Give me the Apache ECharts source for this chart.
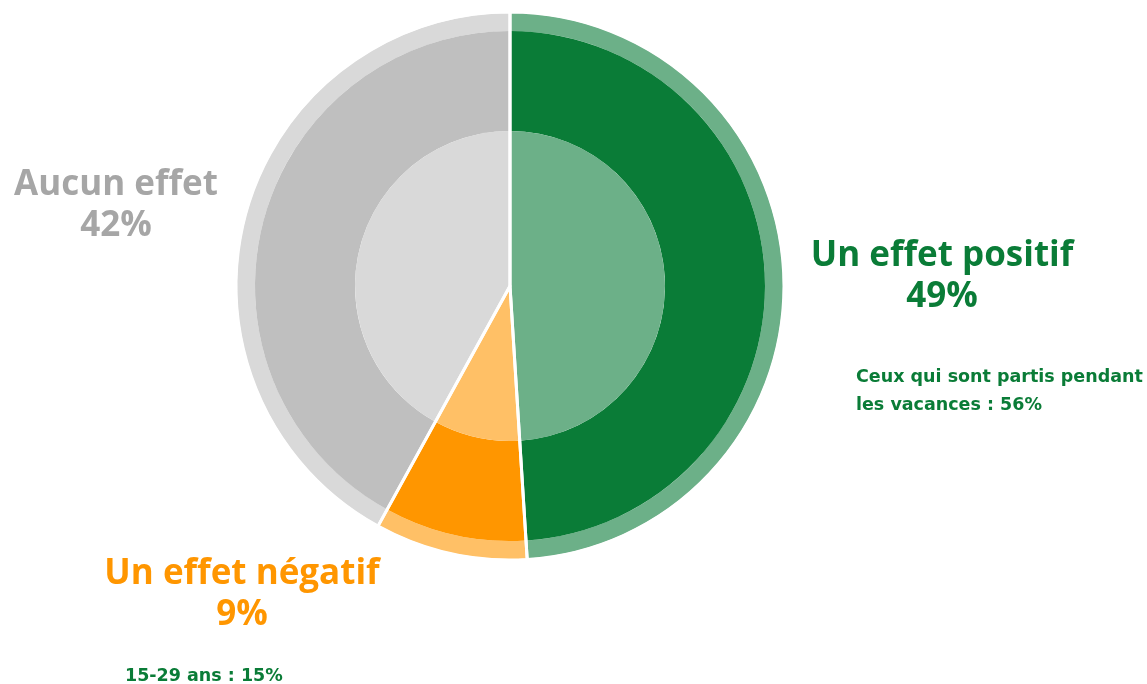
<!DOCTYPE html>
<html>
<head>
<meta charset="utf-8">
<script src="https://cdn.jsdelivr.net/npm/echarts@6/dist/echarts.min.js"></script>
<style>
  html, body { margin: 0; padding: 0; background: #fff; }
  #chart { width: 1147px; height: 684px; }
</style>
</head>
<body>
<div id="chart"></div>
<script>
const categories = ['Un effet positif', 'Un effet négatif', 'Aucun effet']
const shares = [49, 9, 42]
const notes = ['Ceux qui sont partis pendant\nles vacances : 56%', '15-29 ans : 15%']

const darkColors = ['#0A7C37', '#FF9600', '#BFBFBF']
const lightColors = ['#6CB088', '#FFC066', '#D9D9D9']
const textColors = ['#0A7C37', '#FF9600', '#A6A6A6']
const labelPos = [[942, 277], [242, 595], [116, 206]]

const center = [510, 286]
const font = '"Open Sans", "DejaVu Sans", sans-serif'
const noteFont = 'bold 17.5px "DejaVu Sans", sans-serif'

const chart = echarts.init(document.getElementById('chart'))

const ring = (radius, colors, z) => ({
  type: 'pie',
  center,
  radius,
  startAngle: 90,
  clockwise: true,
  silent: true,
  z,
  label: { show: false },
  labelLine: { show: false },
  itemStyle: { borderWidth: 0 },
  data: categories.map((name, i) => ({
    name,
    value: shares[i],
    itemStyle: { color: colors[i] }
  }))
})

const main = ring([155, 255], darkColors, 3)
main.label = {
  show: true,
  position: 'outside',
  fontFamily: font,
  fontWeight: 'bold',
  fontSize: 35,
  lineHeight: 41,
  align: 'center',
  overflow: 'none',
  width: 400,
  formatter: p => p.name + '\n' + p.value + '%'
}
main.data.forEach((d, i) => {
  d.label = { color: textColors[i] }
})
main.labelLayout = p => ({
  x: labelPos[p.dataIndex][0],
  y: labelPos[p.dataIndex][1],
  align: 'center',
  verticalAlign: 'middle'
})

// white separators drawn over all three rings
const sep = ring([0, 274], lightColors, 5)
sep.itemStyle = { borderWidth: 3, borderColor: '#fff' }
sep.data.forEach(d => { d.itemStyle.color = 'rgba(0,0,0,0)' })

chart.setOption({
  animation: false,
  series: [
    ring([255, 273], lightColors, 2),
    main,
    ring([0, 155], lightColors, 4),
    sep
  ],
  graphic: [
    {
      type: 'text',
      left: 856,
      top: 363,
      style: {
        text: notes[0],
        fill: '#0A7C37',
        font: noteFont,
        lineHeight: 28
      }
    },
    {
      type: 'text',
      left: 125,
      top: 662,
      style: {
        text: notes[1],
        fill: '#0A7C37',
        font: noteFont,
        lineHeight: 28
      }
    }
  ]
})
</script>
</body>
</html>
